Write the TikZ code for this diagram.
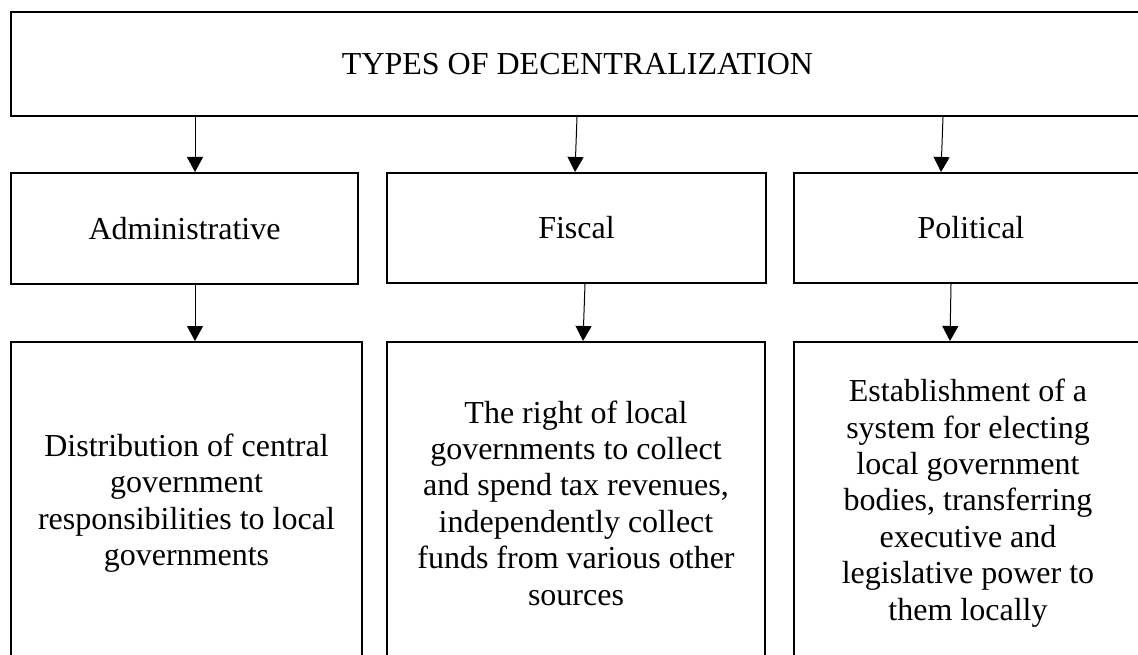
\documentclass[tikz,border=0pt]{standalone}
\usepackage{fontspec}
\setmainfont{Liberation Serif}
\usetikzlibrary{arrows.meta,calc}

\begin{document}
\begin{tikzpicture}[x=1pt,y=-1pt,
  box/.style={draw,line width=2pt,rectangle,align=center,inner sep=0pt,
    font=\fontsize{32}{36.4}\selectfont},
  arr/.style={-{Triangle[width=16pt,length=15pt]},line width=1pt}]
\useasboundingbox (0,0) rectangle (1138,655);
\clip (0,0) rectangle (1138,655);

\node[box,minimum width=1133pt,minimum height=104pt] (types) at (577.5,64) {TYPES OF DECENTRALIZATION};

\node[box,minimum width=347pt,minimum height=111pt] (adm) at (184.5,228.5) {Administrative};
\node[box,minimum width=379pt,minimum height=110pt] (fis) at (576.5,228) {Fiscal};
\node[box,minimum width=354pt,minimum height=110pt] (pol) at (971,228) {Political};

\node[box,minimum width=351pt,minimum height=322pt] (admtxt) at (186.5,503)
  {Distribution of central\\government\\responsibilities to local\\governments};
\node[box,minimum width=378pt,minimum height=322pt] (fistxt) at (576,503)
  {The right of local\\governments to collect\\and spend tax revenues,\\independently collect\\funds from various other\\sources};
\node[box,minimum width=348pt,minimum height=322pt] (poltxt) at (968,503)
  {Establishment of a\\system for electing\\local government\\bodies, transferring\\executive and\\legislative power to\\them locally};

\draw[arr] (types.south -| 195,0) -- ($(adm.north)+(10.5,0)$);
\draw[arr] (types.south -| 577,0) -- ($(fis.north)+(-1.5,0)$);
\draw[arr] (types.south -| 943,0) -- ($(pol.north)+(-30,0)$);

\draw[arr] ($(adm.south)+(10.5,0)$) -- ($(admtxt.north)+(8.5,0)$);
\draw[arr] ($(fis.south)+(8.5,0)$) -- ($(fistxt.north)+(7,0)$);
\draw[arr] ($(pol.south)+(-20,0)$) -- ($(poltxt.north)+(-18,0)$);
\end{tikzpicture}
\end{document}
